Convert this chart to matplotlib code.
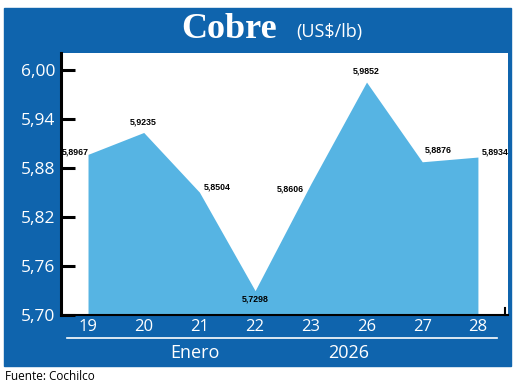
import matplotlib.pyplot as plt
from matplotlib.patches import Rectangle

# --- data ---
days = ['19', '20', '21', '22', '23', '26', '27', '28']
prices = [5.8967, 5.9235, 5.8504, 5.7298, 5.8606, 5.9852, 5.8876, 5.8934]
price_labels = ['5,8967', '5,9235', '5,8504', '5,7298', '5,8606', '5,9852', '5,8876', '5,8934']
y_ticks = [5.70, 5.76, 5.82, 5.88, 5.94, 6.00]
y_tick_labels = ['5,70', '5,76', '5,82', '5,88', '5,94', '6,00']

DARK = '#0F64AD'
LIGHT = '#56B4E3'
W, H = 520, 388

fig = plt.figure(figsize=(W / 100, H / 100), dpi=100)
fig.patch.set_facecolor('white')

# blue panel behind everything
fig.patches.append(Rectangle((4 / W, 1 - 366 / H), 507 / W, 358 / H,
                             transform=fig.transFigure, color=DARK, zorder=-10))

ax = fig.add_axes([61 / W, 1 - 315 / H, 447 / W, 262 / H])
ax.set_zorder(5)
ax.set_facecolor('white')

x = list(range(len(days)))
ax.fill_between(x, prices, 5.70, color=LIGHT, linewidth=0)

ax.set_xlim(-0.485, 7.54)
ax.set_ylim(5.70, 6.0208)

# data labels: (dx points, dy points, ha, va)
offsets = [(0.5, 2, 'right', 'center'), (0, 4, 'center', 'bottom'),
           (3.5, 3.5, 'left', 'center'), (0, -3, 'center', 'top'),
           (-5, -4, 'right', 'center'), (0, 5, 'center', 'bottom'),
           (2, 5, 'left', 'bottom'), (2.5, 3.5, 'left', 'center')]
for xi, yi, lab, (dx, dy, ha, va) in zip(x, prices, price_labels, offsets):
    ax.annotate(lab, (xi, yi), xytext=(dx, dy), textcoords='offset points',
                ha=ha, va=va, fontsize=6.3, fontweight='bold', color='black',
                family='Liberation Sans', zorder=6)

ax.set_yticks(y_ticks)
ax.set_yticklabels(y_tick_labels, color='white', fontsize=12.5, family='Open Sans')
ax.tick_params(axis='y', direction='in', length=10, width=2.2, color='black', pad=4)
ax.set_xticks(x)
ax.set_xticklabels(days, color='white', fontsize=12, family='Open Sans')
ax.tick_params(axis='x', length=0, pad=3)

for side in ['top', 'right']:
    ax.spines[side].set_visible(False)
ax.spines['left'].set_linewidth(2.2)
ax.spines['bottom'].set_linewidth(1.5)
ax.spines['left'].set_color('black')
ax.spines['bottom'].set_color('black')

# small closing tick at the right end of the x axis
ax.plot([7.48, 7.48], [5.70, 5.709], color='black', linewidth=1.5, clip_on=False)

# title in the banner
fig.text(229 / W, 1 - 30 / H, 'Cobre', color='white', fontsize=26, fontweight='bold',
         family='Liberation Serif', ha='center', va='center')
fig.text(296 / W, 1 - 32 / H, '(US$/lb)', color='white', fontsize=13,
         family='Open Sans', ha='left', va='center')

# line under the day labels, month / year
fig.lines.append(plt.Line2D([67 / W, 497 / W], [1 - 338 / H, 1 - 338 / H],
                            transform=fig.transFigure, color='white', linewidth=1.2))
fig.text(195 / W, 1 - 353 / H, 'Enero', color='white', fontsize=13,
         family='Open Sans', ha='center', va='center')
fig.text(349 / W, 1 - 353 / H, '2026', color='white', fontsize=13,
         family='Open Sans', ha='center', va='center')

fig.text(5 / W, 1 - 377 / H, 'Fuente: Cochilco', color='black', fontsize=8.5,
         family='Open Sans', ha='left', va='center')

fig.savefig('out.png', dpi=100)
